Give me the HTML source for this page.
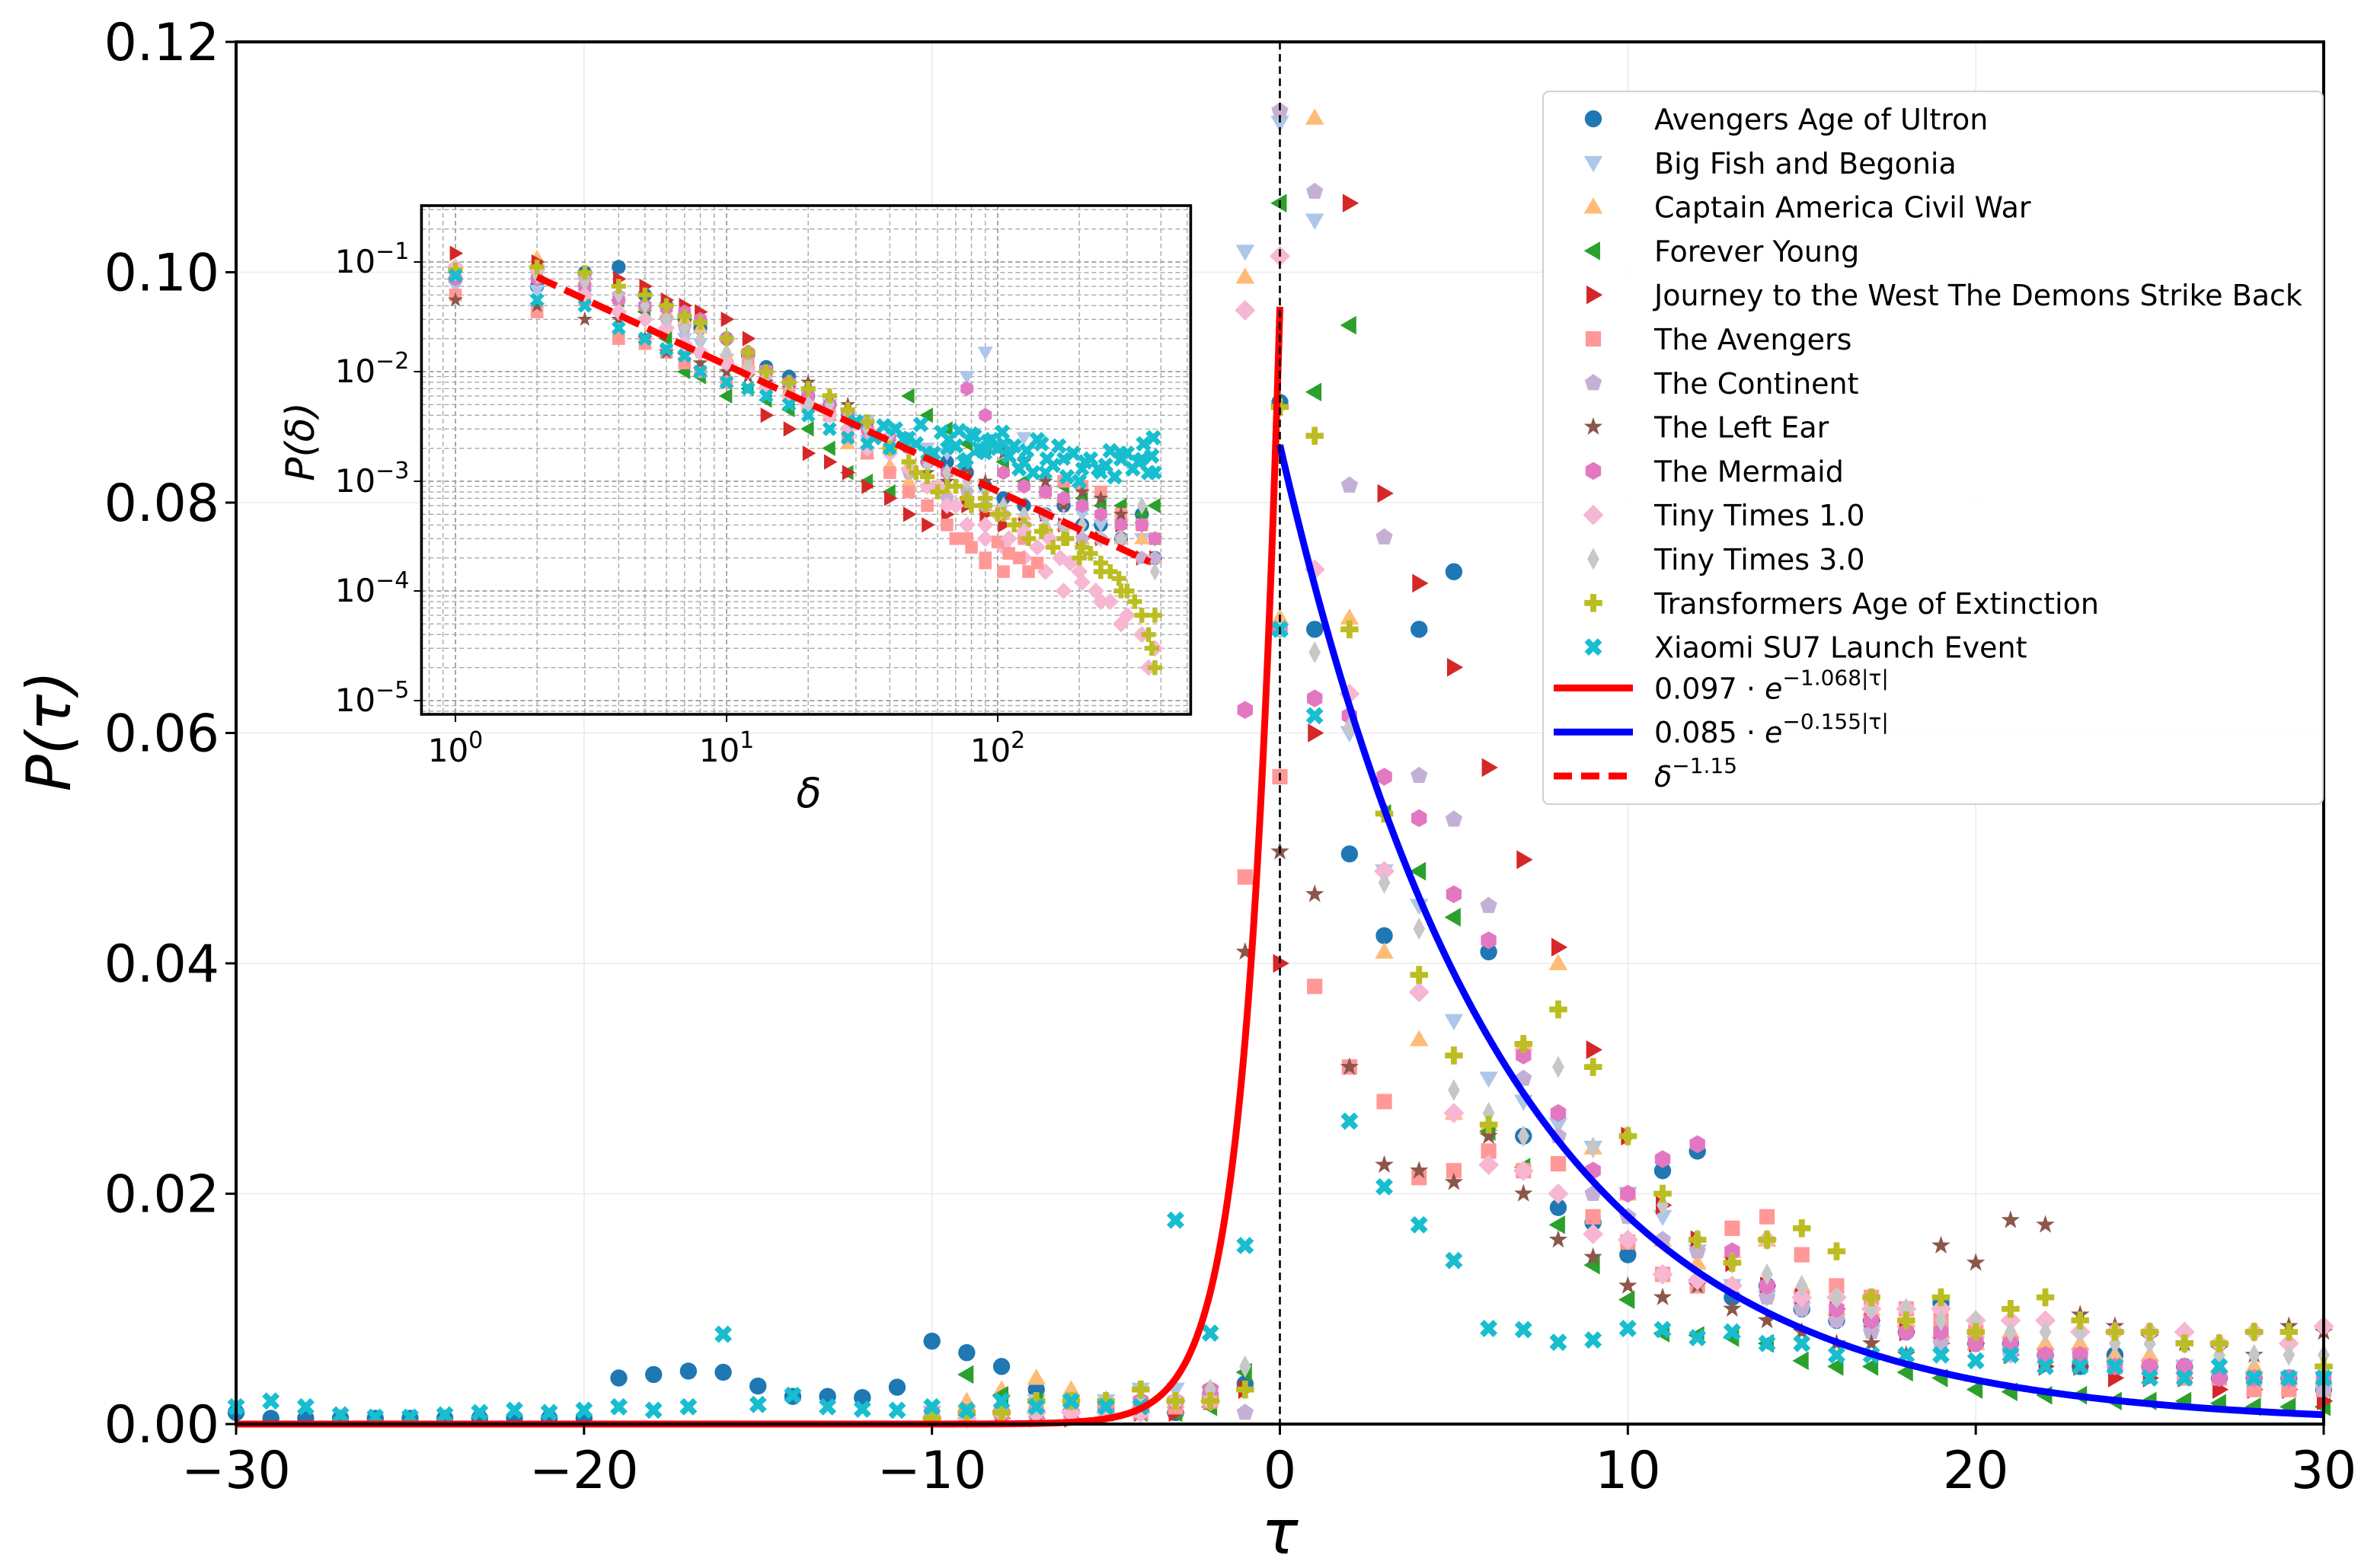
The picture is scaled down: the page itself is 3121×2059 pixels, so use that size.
<!DOCTYPE html>
<html><head><meta charset="utf-8"><style>
html,body{margin:0;padding:0;background:#fff;}
svg{display:block;font-family:"DejaVu Sans","Liberation Sans",sans-serif;}
</style></head><body>
<svg id="chart" width="3121" height="2059" viewBox="0 0 1560.5 1029.5" xmlns="http://www.w3.org/2000/svg">
<rect x="0" y="0" width="1560.5" height="1029.5" fill="#fff"/>
<g id="main"></g><g id="inset"></g><g id="legend"></g>
</svg>
<script>
// ---------- main chart data ----------
const seriesNames = ["Avengers Age of Ultron","Big Fish and Begonia","Captain America Civil War","Forever Young","Journey to the West The Demons Strike Back","The Avengers","The Continent","The Left Ear","The Mermaid","Tiny Times 1.0","Tiny Times 3.0","Transformers Age of Extinction","Xiaomi SU7 Launch Event"];
const seriesColors = ["#1f77b4","#aec7e8","#ffbb78","#2ca02c","#d62728","#ff9896","#c5b0d5","#8c564b","#e377c2","#f7b6d2","#c7c7c7","#bcbd22","#17becf"];
const seriesMarkers = ["o","v","^","<",">","s","p","*","h","D","d","P","X"];
const tauPos = [0,1,2,3,4,5,6,7,8,9,10,11,12,13,14,15,16,17,18,19,20,21,22,23,24,25,26,27,28,29,30];
const tauNegFull = [-30,-29,-28,-27,-26,-25,-24,-23,-22,-21,-20,-19,-18,-17,-16,-15,-14,-13,-12,-11,-10,-9,-8,-7,-6,-5,-4,-3,-2,-1];
const tauNegShort = [-10,-9,-8,-7,-6,-5,-4,-3,-2,-1];
const posUltron = [.0887,.069,.0495,.0424,.069,.074,.041,.025,.0188,.0175,.0147,.022,.0237,.011,.012,.010,.009,.009,.008,.0105,.007,.007,.006,.005,.006,.005,.005,.004,.004,.004,.003];
const posBigFish = [.113,.1045,.06,.048,.045,.035,.03,.028,.026,.024,.02,.018,.015,.012,.011,.01,.009,.008,.008,.007,.007,.006,.006,.006,.005,.005,.005,.004,.004,.004,.004];
const posCapAm = [.07,.1134,.070,.041,.0334,.027,.026,.033,.040,.024,.02,.016,.014,.015,.016,.012,.01,.01,.009,.008,.007,.008,.007,.007,.006,.006,.005,.005,.005,.004,.004];
const posForever = [.106,.0896,.0954,.053,.048,.044,.0254,.0223,.0173,.0138,.0108,.0079,.0077,.0075,.007,.0055,.005,.005,.0045,.004,.003,.0028,.0025,.0025,.002,.002,.002,.0018,.0015,.0015,.0015];
const posJourney = [.04,.06,.106,.0808,.073,.0657,.057,.049,.0414,.0325,.025,.019,.016,.014,.012,.011,.01,.009,.008,.007,.007,.006,.005,.005,.004,.004,.004,.003,.003,.003,.002];
const posAvengers = [.0562,.038,.031,.028,.0214,.022,.0237,.022,.0226,.018,.0158,.013,.012,.017,.018,.0147,.012,.011,.01,.009,.008,.007,.006,.006,.005,.005,.004,.004,.003,.003,.003];
const posContinent = [.114,.107,.0815,.077,.0563,.0525,.045,.03,.025,.02,.018,.016,.015,.012,.011,.01,.009,.008,.008,.007,.007,.006,.006,.006,.005,.005,.005,.004,.004,.004,.003];
const posLeftEar = [.0497,.046,.031,.0225,.022,.021,.025,.02,.016,.0145,.012,.011,.012,.01,.009,.008,.007,.007,.006,.0155,.014,.0177,.0173,.0095,.0085,.0075,.007,.0065,.006,.0085,.008];
const posMermaid = [.069,.063,.0615,.0562,.0526,.046,.042,.032,.027,.022,.02,.023,.0243,.015,.012,.011,.01,.009,.008,.008,.007,.007,.006,.006,.005,.005,.005,.004,.004,.004,.004];
const posTiny1 = [.1014,.0742,.0634,.048,.0375,.027,.0225,.022,.02,.0165,.016,.013,.0125,.012,.016,.011,.011,.01,.01,.01,.009,.009,.009,.008,.008,.008,.008,.007,.008,.007,.0085];
const posTiny3 = [.069,.067,.0605,.047,.043,.029,.027,.025,.031,.024,.025,.019,.016,.014,.013,.012,.011,.01,.01,.009,.009,.008,.008,.008,.007,.007,.007,.006,.006,.006,.006];
const posTransf = [.0883,.0858,.069,.053,.039,.032,.026,.033,.036,.031,.025,.02,.016,.014,.016,.017,.015,.011,.009,.011,.008,.01,.011,.009,.008,.008,.007,.007,.008,.008,.005];
const posXiaomi = [.069,.0615,.0263,.0206,.0173,.0142,.0083,.0082,.0071,.0073,.0083,.0082,.0075,.008,.007,.007,.006,.006,.006,.006,.0055,.006,.005,.005,.005,.004,.004,.005,.004,.004,.004];
const negUltron = [.001,.0005,.0005,.0005,.0005,.0005,.0005,.0005,.0005,.0005,.0005,.004,.0043,.0046,.0045,.0033,.0024,.0024,.0023,.0032,.0072,.0062,.005,.003,.002,.0015,.0012,.001,.0025,.0035];
const negXiaomi = [.0015,.002,.0015,.0008,.0006,.0006,.0008,.001,.0012,.001,.0012,.0015,.0012,.0015,.0078,.0017,.0025,.0015,.0013,.0012,.0015,.0012,.002,.0015,.002,.0015,.0015,.0177,.0079,.0155];
const negBigFish = [.001,.001,.002,.002,.002,.002,.003,.003,.002,.1018];
const negCapAm = [.001,.002,.003,.004,.003,.002,.002,.002,.003,.0996];
const negForever = [.0005,.0043,.0025,.002,.001,.001,.001,.001,.0015,.0045];
const negJourney = [.0005,.0005,.0005,.0005,.0005,.001,.001,.001,.002,.003];
const negAvengers = [.0005,.0005,.001,.001,.001,.001,.001,.0015,.002,.0475];
const negContinent = [.001,.001,.001,.001,.001,.001,.002,.002,.003,.001];
const negLeftEar = [.0005,.0005,.001,.001,.001,.001,.001,.002,.003,.041];
const negMermaid = [.001,.001,.001,.001,.001,.001,.002,.002,.003,.062];
const negTiny1 = [.0005,.0005,.001,.001,.001,.001,.001,.002,.002,.0967];
const negTiny3 = [.001,.001,.001,.0015,.002,.002,.002,.002,.003,.005];
const negTransf = [.0005,.001,.001,.002,.002,.002,.003,.002,.002,.003];
const posSeries = [posUltron,posBigFish,posCapAm,posForever,posJourney,posAvengers,posContinent,posLeftEar,posMermaid,posTiny1,posTiny3,posTransf,posXiaomi];
const negSeries = [negUltron,negBigFish,negCapAm,negForever,negJourney,negAvengers,negContinent,negLeftEar,negMermaid,negTiny1,negTiny3,negTransf,negXiaomi];
const fitLeft = [0.097, 1.068];
const fitRight = [0.085, 0.155];
const xTicks = [-30,-20,-10,0,10,20,30];
const xTickLabels = ["\u221230","\u221220","\u221210","0","10","20","30"];
const yTicks = [0,0.02,0.04,0.06,0.08,0.10,0.12];
const yTickLabels = ["0.00","0.02","0.04","0.06","0.08","0.10","0.12"];

// ---------- inset data ----------
const insetDelta = [1,2,3,4,5,6,7,8,10,12,14,17,20,24,28,33,40,47,55,65,77,90,105,125,150,175,205,240,285,340,380];
const inUltron = [.07,.06,.08,.09,.05,.04,.03,.025,.02,.014,.011,.009,.006,.005,.004,.0035,.002,.0022,.0015,.0015,.0012,.0009,.0007,.0006,.0005,.0006,.0004,.0004,.0003,.0005,.0002];
const inBigFish = [.06,.055,.05,.04,.035,.028,.02,.018,.013,.01,.009,.007,.006,.005,.004,.0035,.003,.0025,.002,.0018,.009,.015,.002,.0025,.0008,.0006,.0005,.0004,.0004,.0003,.0003];
const inCapAm = [.09,.11,.07,.05,.04,.035,.03,.025,.014,.012,.008,.006,.005,.004,.0022,.0018,.0014,.001,.0009,.0008,.0007,.0006,.0005,.0005,.0004,.0004,.0003,.0003,.0003,.0003,.0002];
const inForever = [.08,.09,.06,.045,.035,.02,.01,.009,.006,.007,.0055,.0045,.003,.002,.0012,.001,.0008,.006,.004,.003,.0022,.002,.0015,.001,.0008,.0009,.0007,.0006,.0006,.0005,.0006];
const inJourney = [.12,.1,.07,.07,.06,.045,.04,.035,.03,.02,.004,.003,.0018,.0015,.0012,.0009,.0007,.0005,.0004,.0005,.0006,.0005,.0004,.0004,.0005,.0004,.0003,.0003,.0004,.0002,.0002];
const inAvengers = [.05,.035,.045,.02,.018,.015,.012,.01,.008,.013,.01,.007,.005,.004,.0025,.0018,.0012,.0008,.0006,.0004,.0003,.00018,.00015,.0003,.0008,.001,.0009,.0008,.0005,.0004,.0003];
const inContinent = [.09,.08,.07,.05,.04,.03,.025,.015,.012,.01,.008,.006,.005,.004,.003,.0025,.002,.0012,.0009,.0007,.0008,.0006,.0005,.0004,.0005,.0004,.0003,.0003,.0003,.0002,.0002];
const inLeftEar = [.045,.04,.03,.03,.02,.015,.014,.012,.01,.009,.008,.007,.008,.006,.005,.003,.002,.0015,.0012,.001,.0012,.001,.0018,.0015,.001,.0006,.0008,.0007,.0005,.0004,.0003];
const inMermaid = [.07,.07,.06,.045,.04,.038,.035,.03,.02,.015,.01,.008,.006,.005,.004,.003,.0025,.002,.0015,.0012,.007,.004,.0012,.0009,.0008,.0007,.0006,.0005,.0004,.0004,.0003];
const inTiny1 = [.09,.085,.05,.035,.03,.025,.018,.015,.012,.01,.007,.006,.005,.004,.003,.002,.0018,.0013,.0009,.0006,.0004,.0003,.00025,.0002,.00015,.0001,.00012,.00008,.00005,.00004,.00003];
const inTiny3 = [.08,.075,.065,.05,.04,.03,.025,.02,.015,.012,.009,.007,.005,.005,.004,.003,.0026,.002,.0014,.0012,.001,.0008,.0006,.0005,.0004,.0004,.0004,.0003,.0003,.0006,.00015];
const inTransf = [.085,.09,.08,.06,.05,.04,.032,.028,.02,.015,.01,.008,.007,.006,.0045,.0035,.002,.0015,.0011,.0009,.0007,.0006,.0005,.0004,.00035,.0003,.00025,.00015,.0001,.00006,.00006];
const inXiaomi = [.075,.045,.04,.025,.02,.016,.014,.01,.008,.007,.006,.005,.004,.003,.0025,.0022,.002,.0025,.0018,.002,.0016,.0018,.0022,.0015,.0012,.0016,.0013,.0012,.0018,.0016,.0012];
const inSeries = [inUltron,inBigFish,inCapAm,inForever,inJourney,inAvengers,inContinent,inLeftEar,inMermaid,inTiny1,inTiny3,inTransf,inXiaomi];
const xiaomiExtraDelta = [30,35,38,42,45,50,52,58,62,66,70,72,75,80,82,85,88,92,95,100,104,110,115,120,128,135,140,145,152,160,168,180,190,200,210,220,235,250,260,270,285,300,315,330,345,360,370,375];
const xiaomiExtraP = [.0035,.0025,.0032,.003,.0024,.0022,.0033,.0018,.0028,.0024,.0021,.0029,.0015,.0027,.0026,.002,.0019,.0023,.0024,.002,.0028,.0017,.0021,.0013,.0019,.0012,.0024,.0022,.0016,.0014,.0021,.0011,.0018,.001,.0015,.0016,.0013,.0014,.0019,.0011,.0016,.0018,.0013,.0015,.0022,.0012,.0017,.0025];
const transfExtraDelta = [50,60,70,80,90,100,115,130,145,160,180,200,220,240,260,280,300,320,340,360,370,380];
const transfExtraP = [.0012,.0008,.0009,.0006,.0007,.0005,.0004,.0003,.00035,.00025,.0003,.0002,.00022,.00018,.00015,.00013,.0001,.00008,.00006,.00004,.00003,.00002];
const tiny1ExtraDelta = [60,70,90,100,110,125,140,155,170,185,200,230,260,300,340,360];
const tiny1ExtraP = [.0009,.0006,.0004,.0005,.0003,.00035,.00025,.0003,.0002,.00018,.00015,.0001,.00008,.00006,.00004,.00002];
const avengersExtraDelta = [70,80,90,100,110,120,130,140];
const avengersExtraP = [.0003,.00025,.0002,.00028,.00022,.0002,.00015,.00018];
const powerLaw = [0.162, 1.15];
const insetDecades = [0,1,2];
const insetYDecades = [-1,-2,-3,-4,-5];

const NS = "http://www.w3.org/2000/svg";
function mk(parent, tag, attrs){ const e=document.createElementNS(NS,tag); for(const k in attrs) e.setAttribute(k,attrs[k]); parent.appendChild(e); return e; }

const L=155,R=1525.5,T=27.5,B=935;
const xs = t => L + (t+30)/60*(R-L);
const ys = v => B - v/0.12*(B-T);
const iL=276.7,iR=781.7,iT=135,iB=469;
const ix = d => 299 + Math.log10(d)*178;
const iy = p => 172 - (Math.log10(p)+1)*72;

function marker(g, type, x, y, s, color){
  let e;
  const r=s;
  const poly = pts => mk(g,"polygon",{points:pts.map(p=>p[0].toFixed(2)+","+p[1].toFixed(2)).join(" "),fill:color});
  const reg = (n,rad,rot)=>{const p=[];for(let i=0;i<n;i++){const a=rot+i*2*Math.PI/n;p.push([x+rad*Math.cos(a),y+rad*Math.sin(a)]);}return p;};
  switch(type){
    case "o": e=mk(g,"circle",{cx:x,cy:y,r:r,fill:color}); break;
    case "v": e=poly([[x-r*1.1,y-r*0.8],[x+r*1.1,y-r*0.8],[x,y+r*1.1]]); break;
    case "^": e=poly([[x-r*1.1,y+r*0.8],[x+r*1.1,y+r*0.8],[x,y-r*1.1]]); break;
    case "<": e=poly([[x+r*0.8,y-r*1.1],[x+r*0.8,y+r*1.1],[x-r*1.1,y]]); break;
    case ">": e=poly([[x-r*0.8,y-r*1.1],[x-r*0.8,y+r*1.1],[x+r*1.1,y]]); break;
    case "s": e=mk(g,"rect",{x:x-r*0.9,y:y-r*0.9,width:r*1.8,height:r*1.8,fill:color}); break;
    case "p": e=poly(reg(5,r*1.05,-Math.PI/2)); break;
    case "h": e=poly(reg(6,r*1.05,-Math.PI/2)); break;
    case "*": {const p=[];for(let i=0;i<10;i++){const a=-Math.PI/2+i*Math.PI/5;const rr=i%2?r*0.45:r*1.15;p.push([x+rr*Math.cos(a),y+rr*Math.sin(a)]);} e=poly(p);} break;
    case "D": e=poly([[x,y-r*1.2],[x+r*1.2,y],[x,y+r*1.2],[x-r*1.2,y]]); break;
    case "d": e=poly([[x,y-r*1.3],[x+r*0.7,y],[x,y+r*1.3],[x-r*0.7,y]]); break;
    case "P": {const a=r*0.35,b=r*1.05; e=poly([[x-a,y-b],[x+a,y-b],[x+a,y-a],[x+b,y-a],[x+b,y+a],[x+a,y+a],[x+a,y+b],[x-a,y+b],[x-a,y+a],[x-b,y+a],[x-b,y-a],[x-a,y-a]]);} break;
    case "X": {const gg=mk(g,"g",{transform:`rotate(45 ${x} ${y})`});const a=r*0.35,b=r*1.1; e=mk(gg,"polygon",{points:[[x-a,y-b],[x+a,y-b],[x+a,y-a],[x+b,y-a],[x+b,y+a],[x+a,y+a],[x+a,y+b],[x-a,y+b],[x-a,y+a],[x-b,y+a],[x-b,y-a],[x-a,y-a]].map(p=>p.join(",")).join(" "),fill:color});} break;
  }
  return e;
}

// ===== main plot =====
const gm = document.getElementById("main");
xTicks.forEach(t=>{ const l=mk(gm,"line",{x1:xs(t),x2:xs(t),y1:T,y2:B,stroke:"#ebebeb","stroke-width":0.8});

 });
yTicks.forEach(v=>{ const l=mk(gm,"line",{x1:L,x2:R,y1:ys(v),y2:ys(v),stroke:"#ebebeb","stroke-width":0.8});

 });
const gs = mk(gm,"g",{});


seriesNames.forEach((nm,i)=>{
  const sg = mk(gs,"g",{});
  
  
  const neg = negSeries[i]; const negT = neg.length===30 ? tauNegFull : tauNegShort;
  neg.forEach((v,k)=>{ const m=marker(sg,seriesMarkers[i],xs(negT[k]),ys(v),5.6,seriesColors[i]);
    
     });
  posSeries[i].forEach((v,k)=>{ const m=marker(sg,seriesMarkers[i],xs(tauPos[k]),ys(v),5.6,seriesColors[i]);
    
     });
});
let pl=[]; for(let t=-30;t<=0.0001;t+=0.05){pl.push(xs(t).toFixed(2)+","+ys(fitLeft[0]*Math.exp(-fitLeft[1]*Math.abs(t))).toFixed(2));}
const redC = mk(gm,"polyline",{points:pl.join(" "),fill:"none",stroke:"#ff0000","stroke-width":4.5});


pl=[]; for(let t=0;t<=30.0001;t+=0.05){pl.push(xs(t).toFixed(2)+","+ys(fitRight[0]*Math.exp(-fitRight[1]*Math.abs(t))).toFixed(2));}
const blueC = mk(gm,"polyline",{points:pl.join(" "),fill:"none",stroke:"#0000ff","stroke-width":4.5});


const vl = mk(gm,"line",{x1:xs(0),x2:xs(0),y1:T,y2:B,stroke:"#000","stroke-width":1.3,"stroke-dasharray":"5,3"});


const fr = mk(gm,"rect",{x:L,y:T,width:R-L,height:B-T,fill:"none",stroke:"#000","stroke-width":2});


xTicks.forEach((t,k)=>{ mk(gm,"line",{x1:xs(t),x2:xs(t),y1:B,y2:B+7,stroke:"#000","stroke-width":1.5});
  const tx=mk(gm,"text",{x:xs(t),y:B+42,"text-anchor":"middle","font-size":34,fill:"#000"}); tx.textContent=xTickLabels[k];
  
   });
yTicks.forEach((v,k)=>{ mk(gm,"line",{x1:L-7,x2:L,y1:ys(v),y2:ys(v),stroke:"#000","stroke-width":1.5});
  const tx=mk(gm,"text",{x:L-11,y:ys(v)+12,"text-anchor":"end","font-size":34,fill:"#000"}); tx.textContent=yTickLabels[k];
  
   });
const xl = mk(gm,"text",{x:xs(0),y:1020,"text-anchor":"middle","font-size":40,"font-style":"italic",fill:"#000"}); xl.textContent="τ";


const yl = mk(gm,"text",{x:0,y:0,transform:"translate(46,480) rotate(-90)","text-anchor":"middle","font-size":40,"font-style":"italic",fill:"#000"}); yl.textContent="P(τ)";



// ===== inset =====
const gi = document.getElementById("inset");
const ibg = mk(gi,"rect",{x:iL,y:iT,width:iR-iL,height:iB-iT,fill:"#fff"});


const clip = mk(gi,"clipPath",{id:"ic"}); mk(clip,"rect",{x:iL,y:iT,width:iR-iL,height:iB-iT});
const gig = mk(gi,"g",{"clip-path":"url(#ic)"});
for(let e=-1;e<=3;e++){ for(let m=1;m<10;m++){ const d=m*Math.pow(10,e); const x=ix(d); if(x<iL||x>iR) continue;
  const l=mk(gig,"line",{x1:x,x2:x,y1:iT,y2:iB,stroke:"#a8a8a8","stroke-width":m===1?1:0.7,"stroke-dasharray":"3,2"});
  
   } }
for(let e=-6;e<=0;e++){ for(let m=1;m<10;m++){ const p=m*Math.pow(10,e); const y=iy(p); if(y<iT||y>iB) continue;
  const l=mk(gig,"line",{x1:iL,x2:iR,y1:y,y2:y,stroke:"#a8a8a8","stroke-width":m===1?1:0.7,"stroke-dasharray":"3,2"});
  
   } }
const IS=4.6;
seriesNames.forEach((nm,i)=>{
  const sg = mk(gig,"g",{});
  
  
  inSeries[i].forEach((p,k)=>{ const m=marker(sg,seriesMarkers[i],ix(insetDelta[k]),iy(p),IS,seriesColors[i]);
    
     });
});
avengersExtraDelta.forEach((d,k)=>{ const m=marker(gig,"s",ix(d),iy(avengersExtraP[k]),IS,seriesColors[5]);
  
   });
tiny1ExtraDelta.forEach((d,k)=>{ const m=marker(gig,"D",ix(d),iy(tiny1ExtraP[k]),IS,seriesColors[9]);
  
   });
transfExtraDelta.forEach((d,k)=>{ const m=marker(gig,"P",ix(d),iy(transfExtraP[k]),IS,seriesColors[11]);
  
   });
xiaomiExtraDelta.forEach((d,k)=>{ const m=marker(gig,"X",ix(d),iy(xiaomiExtraP[k]),IS+0.4,seriesColors[12]);
  
   });
pl=[]; for(let lg=Math.log10(2);lg<=Math.log10(380);lg+=0.02){const d=Math.pow(10,lg);pl.push(ix(d).toFixed(2)+","+iy(powerLaw[0]*Math.pow(d,-powerLaw[1])).toFixed(2));}
const plaw = mk(gig,"polyline",{points:pl.join(" "),fill:"none",stroke:"#ff0000","stroke-width":4.5,"stroke-dasharray":"14,6"});


const ifr = mk(gi,"rect",{x:iL,y:iT,width:iR-iL,height:iB-iT,fill:"none",stroke:"#000","stroke-width":1.8});


insetDecades.forEach(e=>{ const x=ix(Math.pow(10,e)); mk(gi,"line",{x1:x,x2:x,y1:iB,y2:iB+5,stroke:"#000","stroke-width":1});
  const tx=mk(gi,"text",{x:x,y:iB+31,"text-anchor":"middle","font-size":21,fill:"#000"}); tx.innerHTML='10<tspan dy="-9" font-size="15">'+e+'</tspan>';
  
   });
insetYDecades.forEach(e=>{ const y=iy(Math.pow(10,e)); mk(gi,"line",{x1:iL-5,x2:iL,y1:y,y2:y,stroke:"#000","stroke-width":1});
  const tx=mk(gi,"text",{x:iL-8,y:y+7,"text-anchor":"end","font-size":21,fill:"#000"}); tx.innerHTML='10<tspan dy="-9" font-size="15">\u2212'+(-e)+'</tspan>';
  
   });
const ixl = mk(gi,"text",{x:531,y:530,"text-anchor":"middle","font-size":27,"font-style":"italic",fill:"#000"}); ixl.textContent="δ";


const iyl = mk(gi,"text",{x:0,y:0,transform:"translate(206,290) rotate(-90)","text-anchor":"middle","font-size":26,"font-style":"italic",fill:"#000"}); iyl.textContent="P(δ)";



// ===== legend =====
const gl = document.getElementById("legend");
const lb = mk(gl,"rect",{x:1013,y:60,width:512,height:468,rx:4,fill:"#fff","fill-opacity":0.85,stroke:"#d0d0d0","stroke-width":1});


const step=28.9;
seriesNames.forEach((nm,i)=>{ const y=78+step*i;
  const eg=mk(gl,"g",{});
  
  
  marker(eg,seriesMarkers[i],1046,y,5.6,seriesColors[i]);
  const tx=mk(eg,"text",{x:1086,y:y+7,"font-size":19,fill:"#000"}); tx.textContent=nm; });
const lineEntries = [["#ff0000","0.097 · ","\u22121.068|τ|",false],["#0000ff","0.085 · ","\u22120.155|τ|",false],["#ff0000","δ","\u22121.15",true]];
lineEntries.forEach((le,k)=>{ const y=78+step*(13+k)-2;
  const eg=mk(gl,"g",{});
  
  
  mk(eg,"line",{x1:1020,x2:1072,y1:y,y2:y,stroke:le[0],"stroke-width":4.5,"stroke-dasharray":le[3]?"12,6":"none"});
  const tx=mk(eg,"text",{x:1086,y:y+7,"font-size":19,fill:"#000"});
  tx.innerHTML=(le[3]?'<tspan font-style="italic">δ</tspan>':le[1]+'<tspan font-style="italic">e</tspan>')+'<tspan dy="-9" font-size="14">'+le[2]+'</tspan>'; });
</script>
</body></html>
